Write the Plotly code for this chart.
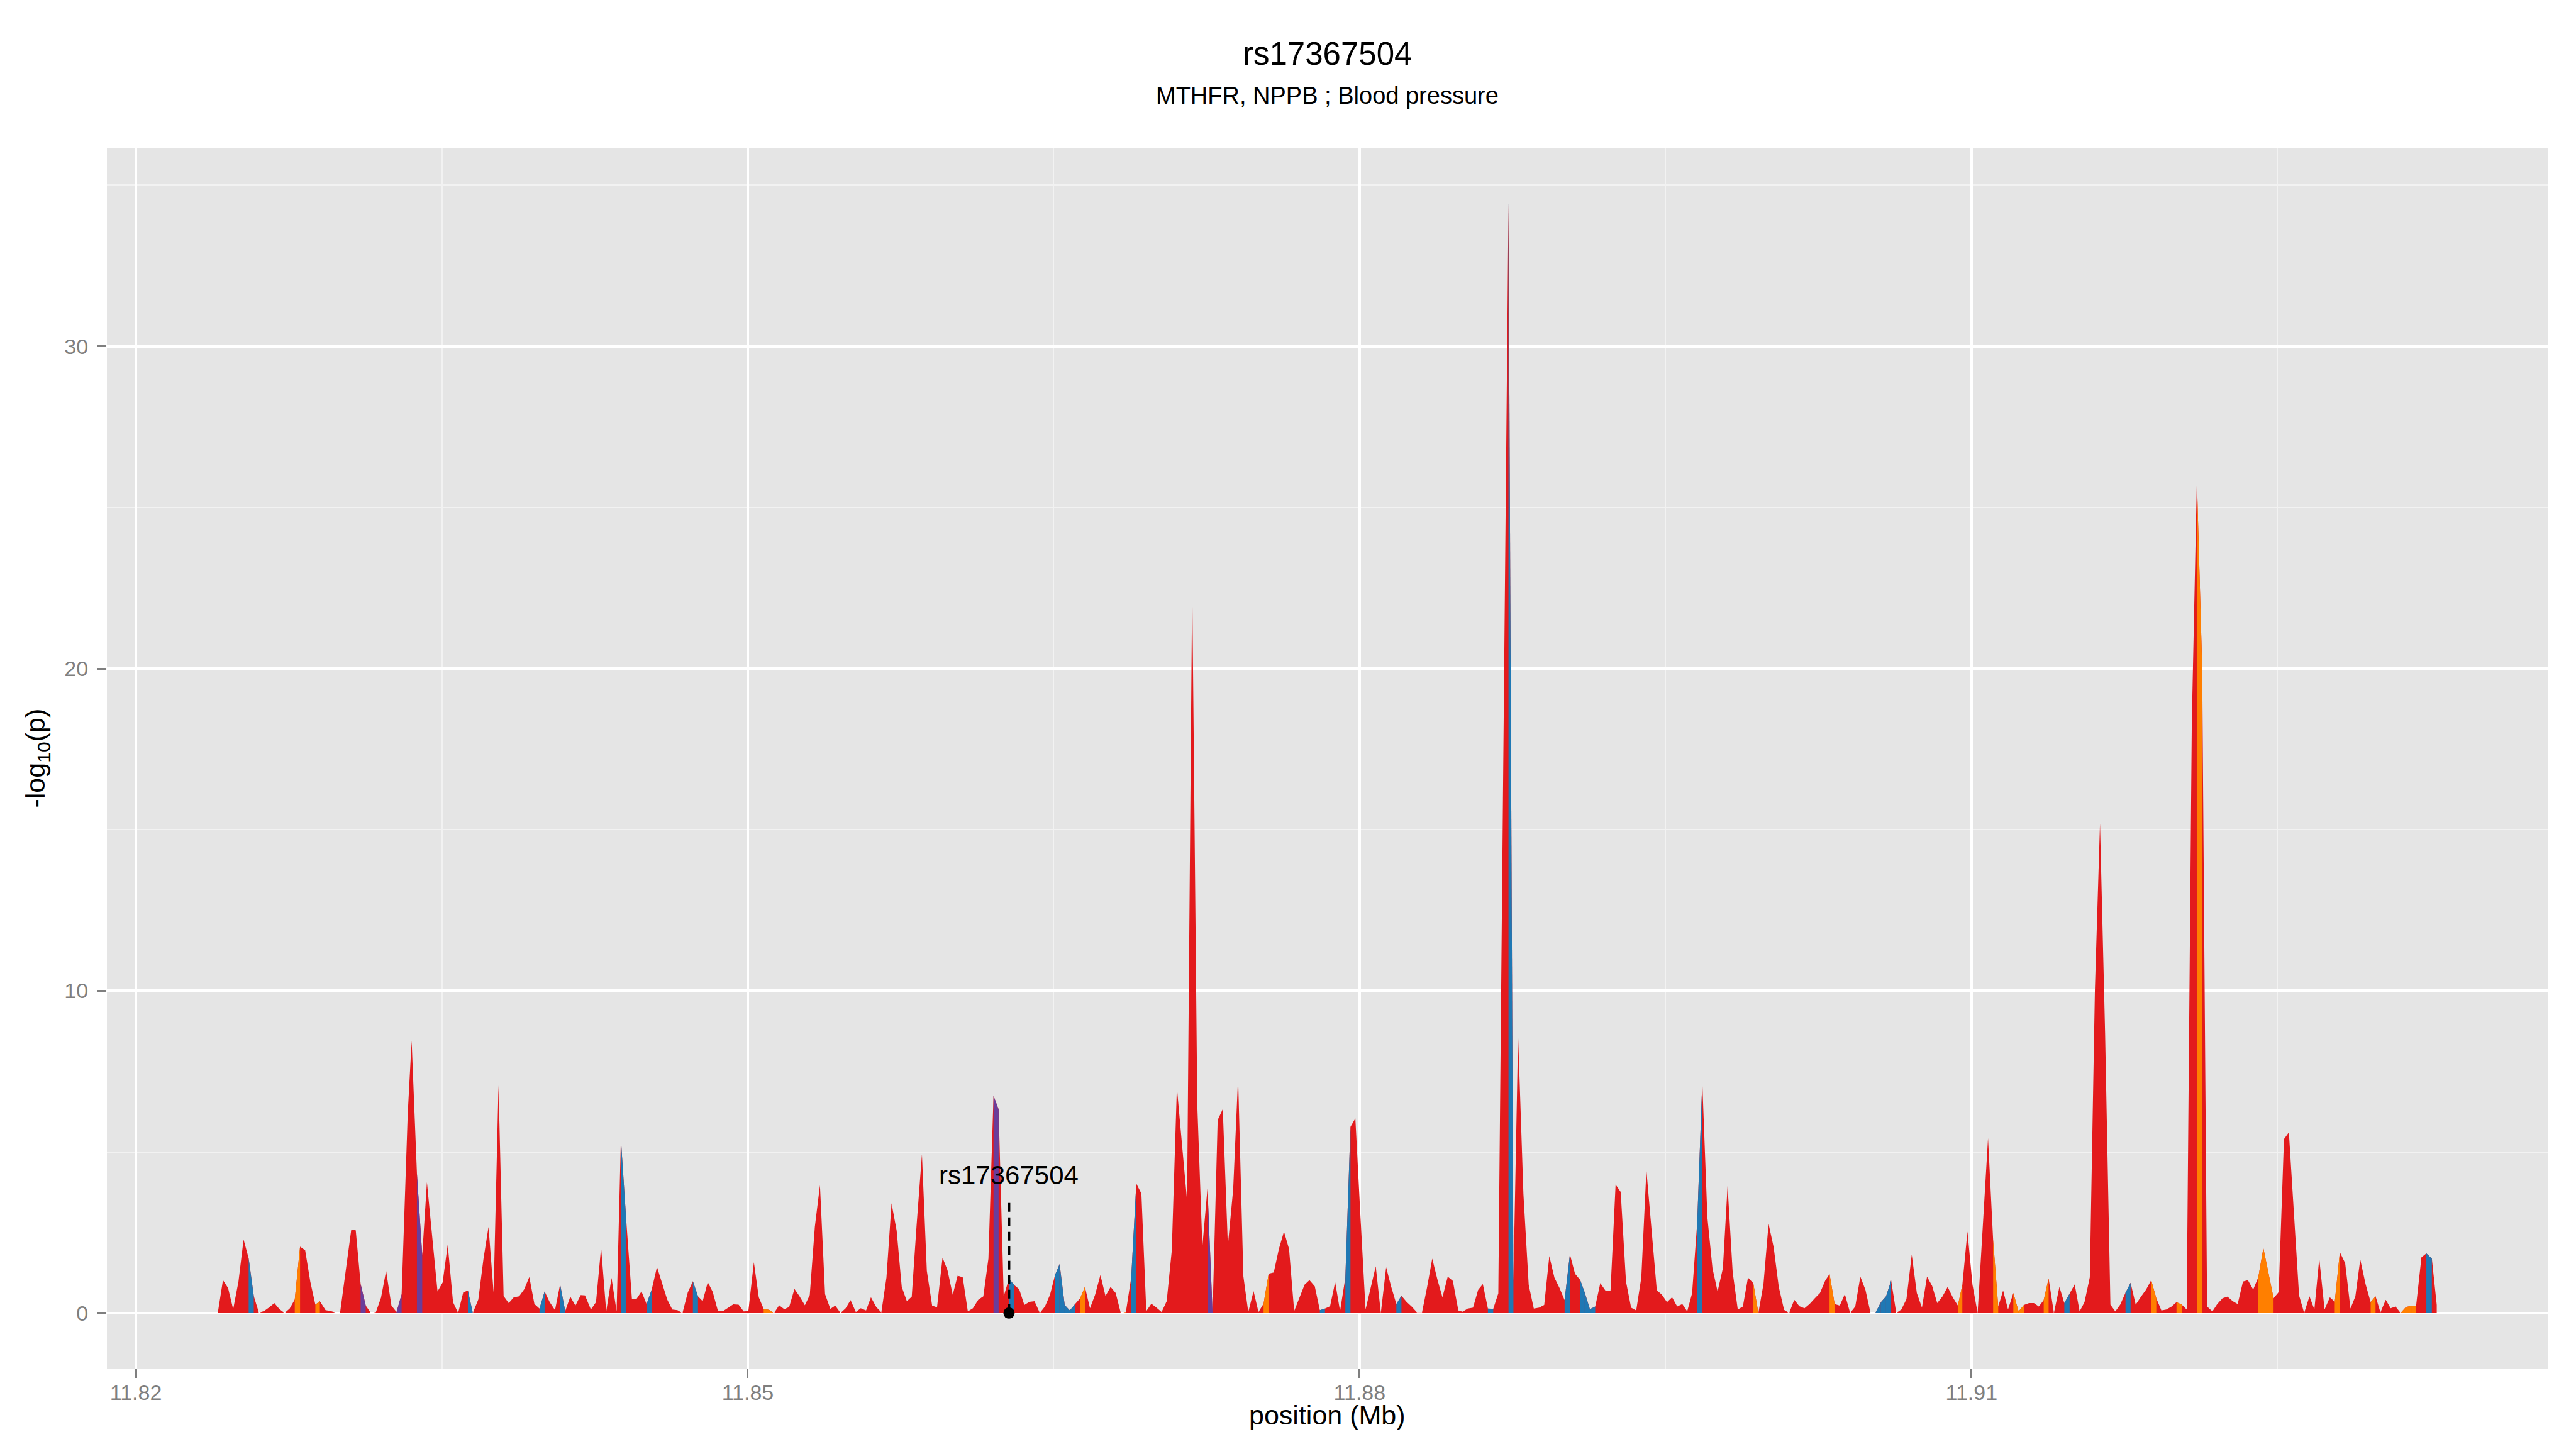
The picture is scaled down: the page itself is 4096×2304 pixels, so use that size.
import plotly.graph_objects as go

# ---------------- data ----------------
pos_mb = [
    11.82402, 11.82427, 11.82452, 11.82477, 11.82503, 11.82528, 11.82553, 11.82578, 11.82603, 11.82628,
    11.82654, 11.82679, 11.82704, 11.82729, 11.82754, 11.82779, 11.82805, 11.82830, 11.82855, 11.82880,
    11.82902, 11.82930, 11.82956, 11.82981, 11.83001, 11.83031, 11.83056, 11.83078, 11.83102, 11.83127,
    11.83152, 11.83177, 11.83202, 11.83227, 11.83253, 11.83278, 11.83303, 11.83333, 11.83352, 11.83378,
    11.83404, 11.83427, 11.83454, 11.83479, 11.83504, 11.83529, 11.83555, 11.83580, 11.83605, 11.83628,
    11.83652, 11.83679, 11.83704, 11.83729, 11.83754, 11.83778, 11.83803, 11.83828, 11.83853, 11.83879,
    11.83904, 11.83929, 11.83954, 11.83979, 11.84004, 11.84029, 11.84055, 11.84080, 11.84105, 11.84130,
    11.84155, 11.84181, 11.84202, 11.84231, 11.84256, 11.84281, 11.84306, 11.84332, 11.84357, 11.84378,
    11.84404, 11.84432, 11.84454, 11.84479, 11.84504, 11.84529, 11.84555, 11.84580, 11.84605, 11.84630,
    11.84655, 11.84680, 11.84706, 11.84731, 11.84756, 11.84779, 11.84804, 11.84828, 11.84854, 11.84879,
    11.84904, 11.84929, 11.84955, 11.84980, 11.85003, 11.85030, 11.85054, 11.85078, 11.85104, 11.85129,
    11.85154, 11.85179, 11.85203, 11.85229, 11.85253, 11.85280, 11.85304, 11.85329, 11.85354, 11.85379,
    11.85405, 11.85429, 11.85455, 11.85480, 11.85504, 11.85530, 11.85554, 11.85580, 11.85604, 11.85630,
    11.85655, 11.85680, 11.85705, 11.85730, 11.85755, 11.85780, 11.85804, 11.85828, 11.85854, 11.85878,
    11.85904, 11.85928, 11.85955, 11.85979, 11.86005, 11.86029, 11.86054, 11.86079, 11.86104, 11.86130,
    11.86155, 11.86180, 11.86205, 11.86230, 11.86255, 11.86281, 11.86306, 11.86331, 11.86356, 11.86381,
    11.86406, 11.86432, 11.86457, 11.86482, 11.86507, 11.86529, 11.86554, 11.86579, 11.86605, 11.86630,
    11.86653, 11.86678, 11.86703, 11.86729, 11.86754, 11.86779, 11.86804, 11.86829, 11.86854, 11.86880,
    11.86905, 11.86930, 11.86954, 11.86979, 11.87004, 11.87029, 11.87054, 11.87079, 11.87104, 11.87130,
    11.87154, 11.87179, 11.87204, 11.87229, 11.87254, 11.87279, 11.87304, 11.87329, 11.87354, 11.87380,
    11.87404, 11.87430, 11.87454, 11.87480, 11.87504, 11.87529, 11.87554, 11.87579, 11.87604, 11.87629,
    11.87654, 11.87679, 11.87704, 11.87730, 11.87754, 11.87780, 11.87805, 11.87830, 11.87855, 11.87880,
    11.87904, 11.87930, 11.87955, 11.87979, 11.88004, 11.88029, 11.88079, 11.88104, 11.88130, 11.88155,
    11.88180, 11.88205, 11.88230, 11.88255, 11.88281, 11.88306, 11.88331, 11.88356, 11.88381, 11.88406,
    11.88432, 11.88457, 11.88484, 11.88505, 11.88530, 11.88556, 11.88581, 11.88604, 11.88629, 11.88655,
    11.88680, 11.88730, 11.88754, 11.88777, 11.88803, 11.88829, 11.88854, 11.88880, 11.88905, 11.88930,
    11.88955, 11.88980, 11.89005, 11.89031, 11.89056, 11.89081, 11.89104, 11.89129, 11.89155, 11.89180,
    11.89205, 11.89230, 11.89255, 11.89280, 11.89306, 11.89331, 11.89356, 11.89381, 11.89406, 11.89431,
    11.89457, 11.89482, 11.89507, 11.89532, 11.89557, 11.89582, 11.89606, 11.89630, 11.89655, 11.89680,
    11.89705, 11.89730, 11.89755, 11.89781, 11.89804, 11.89829, 11.89854, 11.89879, 11.89904, 11.89930,
    11.89955, 11.89980, 11.90005, 11.90030, 11.90055, 11.90081, 11.90106, 11.90131, 11.90156, 11.90181,
    11.90206, 11.90232, 11.90257, 11.90282, 11.90304, 11.90329, 11.90354, 11.90379, 11.90405, 11.90430,
    11.90455, 11.90480, 11.90505, 11.90530, 11.90556, 11.90581, 11.90606, 11.90631, 11.90656, 11.90681,
    11.90707, 11.90732, 11.90757, 11.90782, 11.90807, 11.90832, 11.90858, 11.90883, 11.90908, 11.90933,
    11.90955, 11.90980, 11.91005, 11.91030, 11.91056, 11.91081, 11.91106, 11.91131, 11.91155, 11.91179,
    11.91205, 11.91231, 11.91257, 11.91282, 11.91306, 11.91330, 11.91354, 11.91378, 11.91404, 11.91431,
    11.91455, 11.91481, 11.91506, 11.91530, 11.91554, 11.91580, 11.91605, 11.91630, 11.91655, 11.91681,
    11.91705, 11.91729, 11.91755, 11.91780, 11.91805, 11.91831, 11.91856, 11.91881, 11.91906, 11.91931,
    11.91955, 11.91981, 11.92005, 11.92031, 11.92055, 11.92080, 11.92105, 11.92131, 11.92155, 11.92181,
    11.92205, 11.92231, 11.92255, 11.92281, 11.92305, 11.92331, 11.92355, 11.92381, 11.92406, 11.92431,
    11.92455, 11.92481, 11.92506, 11.92532, 11.92556, 11.92606, 11.92631, 11.92657, 11.92681, 11.92705,
    11.92731, 11.92757, 11.92781, 11.92806, 11.92832, 11.92858, 11.92882, 11.92906, 11.92932, 11.92957,
    11.92981, 11.93005, 11.93031, 11.93055, 11.93079, 11.93104, 11.93130, 11.93156, 11.93180, 11.93206,
    11.93230, 11.93257, 11.93281,
]

logp = [
    0.02, 1.02, 0.78, 0.12, 0.98, 2.28, 1.70, 0.53, 0.01, 0.06,
    0.18, 0.31, 0.12, 0.00, 0.14, 0.42, 2.06, 1.95, 0.98, 0.26,
    0.37, 0.09, 0.06, 0.01, 0.00, 1.39, 2.59, 2.57, 0.90, 0.23,
    0.00, 0.03, 0.48, 1.31, 0.23, 0.03, 0.59, 6.20, 8.45, 4.33,
    1.80, 4.06, 2.30, 0.67, 0.95, 2.12, 0.34, 0.00, 0.64, 0.70,
    0.00, 0.42, 1.67, 2.67, 0.64, 7.06, 0.53, 0.31, 0.49, 0.52,
    0.74, 1.12, 0.28, 0.14, 0.67, 0.34, 0.09, 0.89, 0.06, 0.51,
    0.23, 0.56, 0.55, 0.11, 0.34, 2.03, 0.05, 1.09, 0.05, 5.40,
    2.90, 0.44, 0.43, 0.67, 0.28, 0.73, 1.43, 0.94, 0.42, 0.11,
    0.09, 0.00, 0.64, 0.99, 0.52, 0.37, 0.96, 0.66, 0.06, 0.06,
    0.17, 0.27, 0.26, 0.05, 0.06, 1.58, 0.49, 0.13, 0.10, 0.00,
    0.24, 0.12, 0.19, 0.75, 0.53, 0.24, 0.56, 2.68, 3.97, 0.59,
    0.13, 0.23, 0.00, 0.15, 0.40, 0.03, 0.15, 0.08, 0.49, 0.19,
    0.02, 1.10, 3.41, 2.56, 0.81, 0.37, 0.51, 2.74, 4.93, 1.31,
    0.23, 0.18, 1.72, 1.34, 0.57, 1.16, 1.11, 0.05, 0.15, 0.41,
    0.52, 1.69, 6.74, 6.32, 0.52, 1.07, 0.87, 0.74, 0.25, 0.35,
    0.37, 0.00, 0.20, 0.57, 1.19, 1.52, 0.25, 0.08, 0.28, 0.46,
    0.81, 0.15, 0.57, 1.18, 0.53, 0.81, 0.62, 0.00, 0.03, 1.10,
    4.02, 3.71, 0.06, 0.29, 0.17, 0.03, 0.37, 1.94, 7.00, 5.22,
    3.48, 22.64, 6.46, 2.07, 3.87, 0.00, 5.99, 6.33, 2.10, 3.84,
    7.31, 1.14, 0.03, 0.68, 0.03, 0.29, 1.22, 1.26, 1.99, 2.53,
    1.99, 0.06, 0.45, 0.88, 1.02, 0.83, 0.09, 0.14, 0.21, 0.96,
    0.06, 1.10, 5.78, 6.04, 3.00, 0.11, 1.45, 0.00, 1.42, 0.81,
    0.28, 0.54, 0.35, 0.20, 0.02, 0.02, 0.81, 1.69, 1.05, 0.49,
    1.13, 1.00, 0.08, 0.04, 0.14, 0.17, 0.72, 0.90, 0.14, 0.13,
    0.61, 34.44, 1.00, 8.60, 3.70, 0.87, 0.14, 0.17, 0.25, 1.77,
    1.10, 0.78, 0.40, 1.82, 1.22, 1.03, 0.63, 0.12, 0.20, 0.93,
    0.70, 0.68, 3.99, 3.76, 0.98, 0.17, 0.08, 1.10, 4.43, 2.56,
    0.71, 0.57, 0.34, 0.49, 0.20, 0.28, 0.05, 0.61, 2.80, 7.18,
    2.97, 1.39, 0.67, 1.39, 3.94, 1.27, 0.11, 0.20, 1.10, 0.93,
    0.00, 0.90, 2.77, 2.04, 0.81, 0.10, 0.00, 0.41, 0.21, 0.15,
    0.28, 0.46, 0.62, 1.00, 1.21, 0.28, 0.23, 0.59, 0.00, 0.20,
    1.13, 0.72, 0.00, 0.02, 0.34, 0.52, 1.01, 0.00, 0.11, 0.43,
    1.81, 0.62, 0.17, 1.13, 0.84, 0.31, 0.52, 0.81, 0.49, 0.23,
    0.87, 2.53, 0.87, 0.00, 2.74, 5.43, 2.27, 0.20, 0.70, 0.11,
    0.62, 0.05, 0.25, 0.31, 0.31, 0.20, 0.40, 1.07, 0.00, 0.81,
    0.31, 0.60, 0.89, 0.05, 0.34, 1.11, 10.04, 15.19, 8.68, 0.26,
    0.05, 0.26, 0.63, 0.94, 0.26, 0.51, 0.73, 1.02, 0.46, 0.08,
    0.11, 0.20, 0.34, 0.26, 0.11, 18.30, 25.86, 20.00, 0.20, 0.05,
    0.28, 0.46, 0.51, 0.37, 0.28, 0.98, 1.02, 0.73, 1.11, 2.01,
    1.28, 0.46, 0.65, 5.40, 5.61, 0.55, 0.00, 0.52, 0.11, 1.69,
    0.11, 0.49, 0.35, 1.89, 1.55, 0.14, 0.52, 1.66, 0.90, 0.34,
    0.52, 0.02, 0.41, 0.15, 0.20, 0.00, 0.19, 0.22, 0.23, 1.73,
    1.85, 1.69, 0.25,
]

# colour group of the segment that starts at each SNP
# (R = red, B = blue, O = orange, P = purple), rows of 10 aligned with pos_mb
seg_group = list(
    "RRRRRRBRRR" "RRRRRORRRO" "RRRRRRRRPR" "RRRRRPRRRP" "RRRRRRRRRB"
    "RRRRRRRRRR" "RRRBRRRBRR" "RRRRRRRRRB" "RRRRBRRRRR" "RRRBRRRRRR"
    "RRRRRRROOR" "RRRRRRRRRR" "RRRRRRRRRR" "RRRRRRRRRR" "RRRRRRRRRR"
    "RRPRRBRRRR" "RRRRBBBBRO" "RRRRRRRORB" "RRRRRRRRRR" "RRRRPRRRRR"
    "RRRRRORRRR" "RRRRRRBRRR" "RBRRRRRRRR" "BRRRRRRRRR" "RRRRRRRRBR"
    "RBRRRRRRRR" "RRBRRBBBRR" "RRRRRRRRRR" "RRRRRRRRBR" "RRRRRRRRRO"
    "RRRRRRRRRR" "RRRRORRRRR" "RRBBBBRRRR" "RRRRRRRRRO" "RRRRRRORRR"
    "OORRRRORRR" "BRRRRRRRRR" "RRBRRRRORR" "RRORRRORRR" "RRRRRRRROO"
    "ORRRRRRRRR" "RRORRRRRRO" "RRRRROOORR" "BRR"
)

group_colors = {"R": "#E31A1C", "B": "#1F78B4", "O": "#FF7F00", "P": "#6A3D9A"}

snp_name = "rs17367504"
snp_pos = 11.86281
snp_line_top = 3.45
snp_label_y = 4.28

title_text = "rs17367504"
subtitle_text = "MTHFR, NPPB ; Blood pressure"
x_title = "position (Mb)"
y_title = "-log<sub>10</sub>(p)"

x_tick_vals = [11.82, 11.85, 11.88, 11.91]
x_tick_text = ["11.82", "11.85", "11.88", "11.91"]
x_minor_vals = [11.835, 11.865, 11.895, 11.925]
y_tick_vals = [0, 10, 20, 30]
y_tick_text = ["0", "10", "20", "30"]
y_minor_vals = [5, 15, 25, 35]

x_range = [11.81858, 11.93825]
y_range = [-1.72, 36.16]

FONT = "Liberation Sans, Arial, Helvetica, sans-serif"

# ---------------- figure ----------------
fig = go.Figure()

red = group_colors["R"]
fig.add_trace(go.Scatter(
    x=pos_mb, y=logp, mode="lines", fill="tozeroy",
    fillcolor=red, line=dict(width=0, color=red),
    hoverinfo="skip", showlegend=False,
))

for i in range(len(pos_mb) - 1):
    g = seg_group[i]
    if g == "R":
        continue
    c = group_colors[g]
    fig.add_trace(go.Scatter(
        x=[pos_mb[i], pos_mb[i + 1]], y=[logp[i], logp[i + 1]],
        mode="lines", fill="tozeroy", fillcolor=c,
        line=dict(width=0, color=c), hoverinfo="skip", showlegend=False,
    ))

fig.add_trace(go.Scatter(
    x=[snp_pos, snp_pos], y=[0, snp_line_top], mode="lines",
    line=dict(color="black", width=4, dash="14px,9px"),
    hoverinfo="skip", showlegend=False,
))
fig.add_trace(go.Scatter(
    x=[snp_pos], y=[0], mode="markers",
    marker=dict(size=18, color="black"),
    hoverinfo="skip", showlegend=False,
))

W, H = 4096, 2304
ML, MR, MT, MB = 162, 53, 227, 136
PW, PH = W - ML - MR, H - MT - MB

annotations = [
    dict(x=snp_pos, y=snp_label_y, xref="x", yref="y", text=snp_name,
         showarrow=False, xanchor="center", yanchor="middle",
         font=dict(family=FONT, size=42, color="black")),
    dict(x=0.5, y=1 + (MT - 78) / PH, xref="paper", yref="paper", text=title_text,
         showarrow=False, xanchor="center", yanchor="middle",
         font=dict(family=FONT, size=51, color="black")),
    dict(x=0.5, y=1 + (MT - 144) / PH, xref="paper", yref="paper", text=subtitle_text,
         showarrow=False, xanchor="center", yanchor="middle",
         font=dict(family=FONT, size=38, color="black")),
    dict(x=0.5, y=-(2242 - (H - MB)) / PH, xref="paper", yref="paper", text=x_title,
         showarrow=False, xanchor="center", yanchor="middle",
         font=dict(family=FONT, size=43, color="black")),
    dict(x=(50 - ML) / PW, y=0.5, xref="paper", yref="paper", text=y_title,
         showarrow=False, xanchor="center", yanchor="middle", textangle=-90,
         font=dict(family=FONT, size=43, color="black")),
]

fig.update_layout(
    width=W, height=H,
    margin=dict(l=ML, r=MR, t=MT, b=MB, pad=0),
    paper_bgcolor="white", plot_bgcolor="#E5E5E5",
    showlegend=False,
    annotations=annotations,
    font=dict(family=FONT),
    xaxis=dict(
        range=x_range, tickmode="array", tickvals=x_tick_vals, ticktext=x_tick_text,
        ticks="outside", ticklen=14, tickwidth=3, tickcolor="#7F7F7F",
        ticklabelstandoff=-6,
        tickfont=dict(family=FONT, size=34, color="#7F7F7F"),
        showgrid=True, gridcolor="white", gridwidth=4.3,
        minor=dict(tickmode="array", tickvals=x_minor_vals, showgrid=True,
                   gridcolor="#F2F2F2", gridwidth=2, ticks=""),
        zeroline=False, showline=False, automargin=False, fixedrange=True,
    ),
    yaxis=dict(
        range=y_range, tickmode="array", tickvals=y_tick_vals, ticktext=y_tick_text,
        ticks="outside", ticklen=14, tickwidth=3, tickcolor="#7F7F7F",
        ticklabelstandoff=8,
        tickfont=dict(family=FONT, size=34, color="#7F7F7F"),
        showgrid=True, gridcolor="white", gridwidth=4.3,
        minor=dict(tickmode="array", tickvals=y_minor_vals, showgrid=True,
                   gridcolor="#F2F2F2", gridwidth=2, ticks=""),
        zeroline=False, showline=False, automargin=False, fixedrange=True,
    ),
)

fig.write_html("out.html")
